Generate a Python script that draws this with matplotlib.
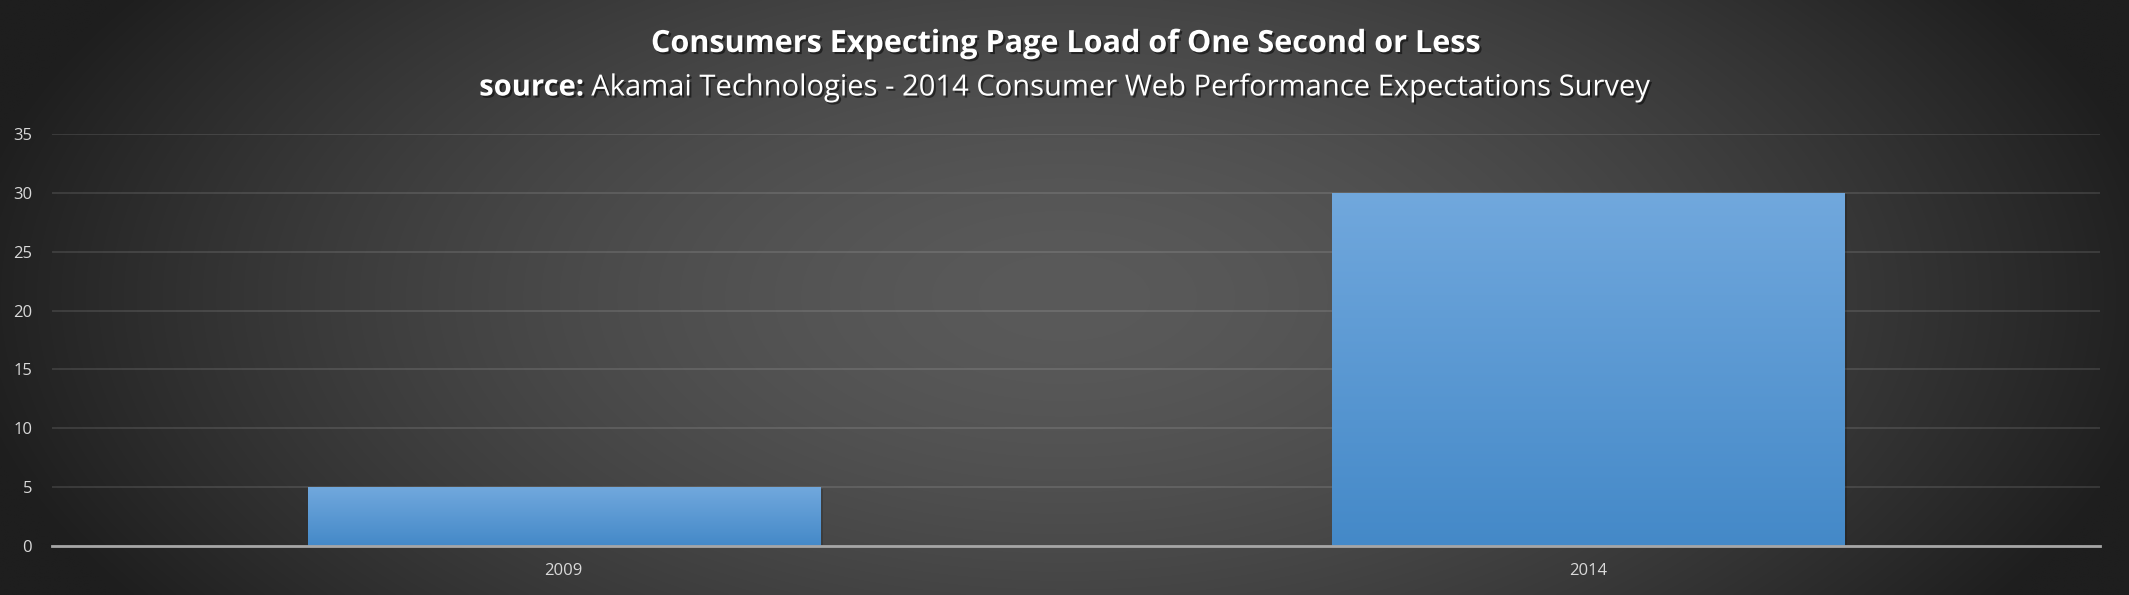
import numpy as np
import matplotlib
matplotlib.use("Agg")
import matplotlib.pyplot as plt
from matplotlib import patheffects as pe

categories = ["2009", "2014"]
values = [5, 30]
yticks = [0, 5, 10, 15, 20, 25, 30, 35]
title = "Consumers Expecting Page Load of One Second or Less"
sub_bold = "source:"
sub_rest = " Akamai Technologies - 2014 Consumer Web Performance Expectations Survey"

W, H = 2129, 595
fig = plt.figure(figsize=(W / 100, H / 100), dpi=100)

# background radial gradient
bg = fig.add_axes([0, 0, 1, 1], zorder=-10)
bg.axis("off")
yy, xx = np.mgrid[-1:1:300j, -1:1:1000j]
r = np.sqrt(xx ** 2 + (yy * 0.55) ** 2)
v = 90 - 56 * np.clip(r, 0, 1.3) ** 1.6
v = np.clip(v, 30, 95) / 255.0
img = np.dstack([v, v, v])
bg.imshow(img, aspect="auto", extent=[0, 1, 0, 1], interpolation="bilinear")
bg.set_xlim(0, 1)
bg.set_ylim(0, 1)

ax = fig.add_axes([51.6 / W, 1 - 546 / H, (2100 - 51.6) / W, (546 - 134) / H])
ax.patch.set_alpha(0)
x = np.arange(len(categories))
bars = ax.bar(x, values, width=0.5, color="#5b9bd5", zorder=3)

top_c = np.array([113, 168, 221]) / 255.0
bot_c = np.array([68, 137, 200]) / 255.0
for b in bars:
    b.set_path_effects([pe.SimplePatchShadow(offset=(2, -1), shadow_rgbFace="black", alpha=0.15), pe.Normal()])
    t = np.linspace(0, 1, 256)[:, None]
    grad = top_c[None, :] * (1 - t) + bot_c[None, :] * t
    grad = np.repeat(grad[:, None, :], 2, axis=1)
    x0, y0 = b.get_x(), b.get_y()
    im = ax.imshow(grad, extent=[x0, x0 + b.get_width(), y0, y0 + b.get_height()],
                   aspect="auto", zorder=3.5, interpolation="bilinear")
    im.set_clip_path(b)

ax.set_xlim(-0.5, len(categories) - 0.5)
ax.set_ylim(0, 35)
ax.set_xticks(x)
ax.set_xticklabels(categories)
ax.set_yticks(yticks)
ax.yaxis.grid(True, color="white", alpha=0.11, lw=1.5)
ax.set_axisbelow(True)
for s in ax.spines.values():
    s.set_visible(False)
ax.axhline(0, color="#a6a6a6", lw=2, zorder=5, clip_on=False)
ax.tick_params(length=0, colors="#d9d9d9", labelsize=12)
ax.tick_params(axis="y", pad=14)
ax.tick_params(axis="x", pad=12)
for lab in ax.get_xticklabels() + ax.get_yticklabels():
    lab.set_fontfamily("Open Sans")

shadow = [pe.withSimplePatchShadow(offset=(1.5, -1.5), shadow_rgbFace="black", alpha=0.5)]
fig.text(0.5, 1 - 44 / H, title, ha="center", va="center", color="white",
         fontsize=22, fontweight="bold", family="Open Sans", path_effects=shadow)

t1 = fig.text(0, 1 - 88 / H, sub_bold, ha="left", va="center", color="white",
              fontsize=21, fontweight="bold", family="Open Sans", path_effects=shadow)
t2 = fig.text(0, 1 - 88 / H, sub_rest, ha="left", va="center", color="white",
              fontsize=21, family="Open Sans", path_effects=shadow)
fig.canvas.draw()
rend = fig.canvas.get_renderer()
w1 = t1.get_window_extent(rend).width
w2 = t2.get_window_extent(rend).width
start = (W - (w1 + w2)) / 2
t1.set_x(start / W)
t2.set_x((start + w1) / W)

fig.savefig("out.png", dpi=100)
